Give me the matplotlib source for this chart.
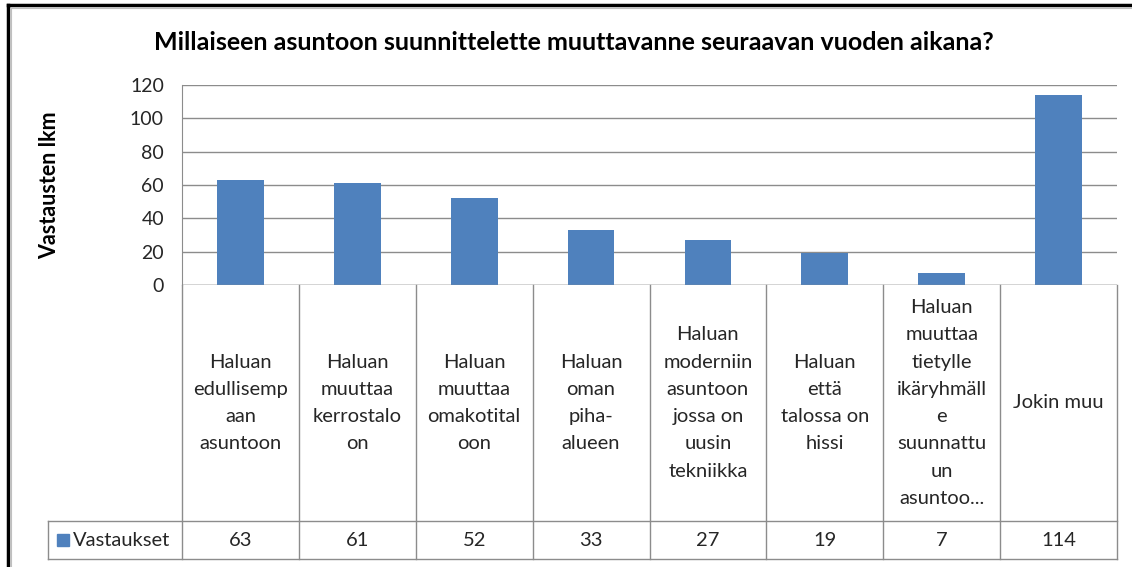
import matplotlib.pyplot as plt
from matplotlib.lines import Line2D
from matplotlib.transforms import blended_transform_factory

categories = [
    "Haluan\nedullisemp\naan\nasuntoon",
    "Haluan\nmuuttaa\nkerrostalo\non",
    "Haluan\nmuuttaa\nomakotital\noon",
    "Haluan\noman\npiha-\nalueen",
    "Haluan\nmoderniin\nasuntoon\njossa on\nuusin\ntekniikka",
    "Haluan\nettä\ntalossa on\nhissi",
    "Haluan\nmuuttaa\ntietylle\nikäryhmäll\ne\nsuunnattu\nun\nasuntoo...",
    "Jokin muu",
]
values = [63, 61, 52, 33, 27, 19, 7, 114]
series_name = "Vastaukset"
title = "Millaiseen asuntoon suunnittelette muuttavanne seuraavan vuoden aikana?"
ylabel = "Vastausten lkm"
yticks = [0, 20, 40, 60, 80, 100, 120]

W, H = 1132, 567
bar_color = "#4F81BD"
grid_color = "#8c8c8c"
text_color = "#262626"

plt.rcParams['font.family'] = ['Lato', 'DejaVu Sans']

fig = plt.figure(figsize=(W / 100, H / 100), dpi=100)

# plot area in pixels: x 182..1117, y 85..285
ax = fig.add_axes([182 / W, 1 - 285 / H, (1117 - 182) / W, 200 / H])
x = list(range(len(values)))
ax.bar(x, values, width=0.4, color=bar_color, zorder=3)
ax.set_xlim(-0.5, len(values) - 0.5)
ax.set_ylim(0, 120)
ax.set_yticks(yticks)
ax.set_xticks([])
ax.tick_params(axis='y', length=0, pad=13, labelsize=14, labelcolor=text_color)
ax.yaxis.grid(True, color=grid_color, linewidth=1)
for s in ["top", "right", "bottom"]:
    ax.spines[s].set_visible(False)
ax.spines["left"].set_color(grid_color)
ax.axhline(0, color=grid_color, linewidth=1, zorder=4)

# data table below the plot
tr = blended_transform_factory(ax.transData, ax.transAxes)
row1_bot = (285 - 521) / 200
row2_bot = (285 - 559) / 200
head_left = (48 - 182) / 116.875 - 0.5
lw = 1
for i in range(len(values) + 1):
    ax.add_line(Line2D([i - 0.5, i - 0.5], [0, row2_bot], transform=tr,
                       color=grid_color, lw=lw, clip_on=False))
ax.add_line(Line2D([head_left, len(values) - 0.5], [row1_bot, row1_bot], transform=tr,
                   color=grid_color, lw=lw, clip_on=False))
ax.add_line(Line2D([head_left, len(values) - 0.5], [row2_bot, row2_bot], transform=tr,
                   color=grid_color, lw=lw, clip_on=False))
ax.add_line(Line2D([head_left, head_left], [row1_bot, row2_bot], transform=tr,
                   color=grid_color, lw=lw, clip_on=False))

for i, (cat, v) in enumerate(zip(categories, values)):
    ax.text(i, row1_bot / 2, cat, transform=tr, ha='center', va='center',
            fontsize=14.5, color=text_color, linespacing=1.73, clip_on=False)
    ax.text(i, (row1_bot + row2_bot) / 2, str(v), transform=tr, ha='center', va='center',
            fontsize=14.5, color=text_color, clip_on=False)

sw_x = (63 - 182) / 116.875 - 0.5
ax.plot([sw_x], [(row1_bot + row2_bot) / 2], marker='s', ms=9, color=bar_color,
        transform=tr, clip_on=False, linestyle='none')
ax.text((73 - 182) / 116.875 - 0.5, (row1_bot + row2_bot) / 2, series_name, transform=tr,
        ha='left', va='center', fontsize=14.5, color=text_color, clip_on=False)

fig.text(574 / W, 1 - 43 / H, title, ha='center', va='center', fontsize=18,
         fontweight='bold', color='black')
fig.text(50 / W, 1 - 185 / H, ylabel, ha='center', va='center', rotation=90,
         fontsize=15.5, fontweight='bold', color='black')

# chart border
fig.add_artist(Line2D([8 / W, 8 / W], [0, 1 - 5 / H], color='black', lw=2.5))
fig.add_artist(Line2D([8 / W, 1], [1 - 5 / H, 1 - 5 / H], color='black', lw=2.5))
fig.add_artist(Line2D([11 / W, 11 / W], [0, 1 - 8 / H], color='#bfbfbf', lw=0.8))
fig.add_artist(Line2D([11 / W, 1], [1 - 8 / H, 1 - 8 / H], color='#bfbfbf', lw=0.8))

fig.savefig("out.png", dpi=100)
